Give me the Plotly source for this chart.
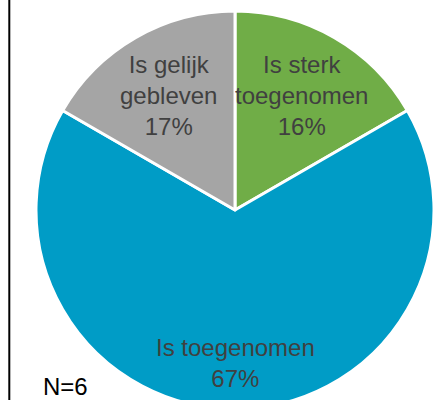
import math
import plotly.graph_objects as go

# answers (N=6), clockwise from 12 o'clock
labels = ['Is sterk<br>toegenomen', 'Is toegenomen', 'Is gelijk<br>gebleven']
counts = [1, 4, 1]
pct_text = ['16%', '67%', '17%']
colors = ['#70AD47', '#009CC6', '#A5A5A5']
n_text = 'N=6'

# label distance from centre, as a fraction of the radius
label_r = [0.665, 0.77, 0.665]

W, H = 437, 420
ml, mr, mt, mb = 36, 3, 11, 11
pw, ph = W - ml - mr, H - mt - mb

fig = go.Figure(go.Pie(
    values=counts,
    labels=[l.replace('<br>', ' ') for l in labels],
    marker=dict(colors=colors, line=dict(color='white', width=3)),
    sort=False,
    direction='clockwise',
    rotation=0,
    textinfo='none',
    hoverinfo='label+percent',
    showlegend=False,
))

total = sum(counts)
start = 0
for lab, val, pct, rf in zip(labels, counts, pct_text, label_r):
    mid = (start + val / 2) / total * 2 * math.pi
    start += val
    x = 0.5 + rf * 0.5 * math.sin(mid)
    y = 0.5 + rf * 0.5 * math.cos(mid)
    fig.add_annotation(x=x, y=y, xref='paper', yref='paper', showarrow=False,
                       xanchor='center', yanchor='middle',
                       text=f'{lab}<br>{pct}', align='center',
                       font=dict(size=24, color='#404040'))

fig.add_annotation(x=(41 - ml) / pw, y=(H - mb - 386) / ph, xref='paper', yref='paper',
                   xanchor='left', yanchor='middle', showarrow=False, text=n_text,
                   font=dict(size=24, color='#000000'))

# frame line on the left
fig.add_shape(type='line', xref='paper', yref='paper',
              x0=(9.3 - ml) / pw, x1=(9.3 - ml) / pw, y0=-0.2, y1=1.2,
              line=dict(color='#000000', width=2))

fig.update_layout(
    width=W, height=H,
    margin=dict(l=ml, r=mr, t=mt, b=mb),
    paper_bgcolor='white',
    font=dict(family='Liberation Sans, Arial, sans-serif'),
)

fig.write_html('out.html', config={'displayModeBar': False},
               post_script="document.body.style.overflow='hidden';document.body.style.margin='0';")
